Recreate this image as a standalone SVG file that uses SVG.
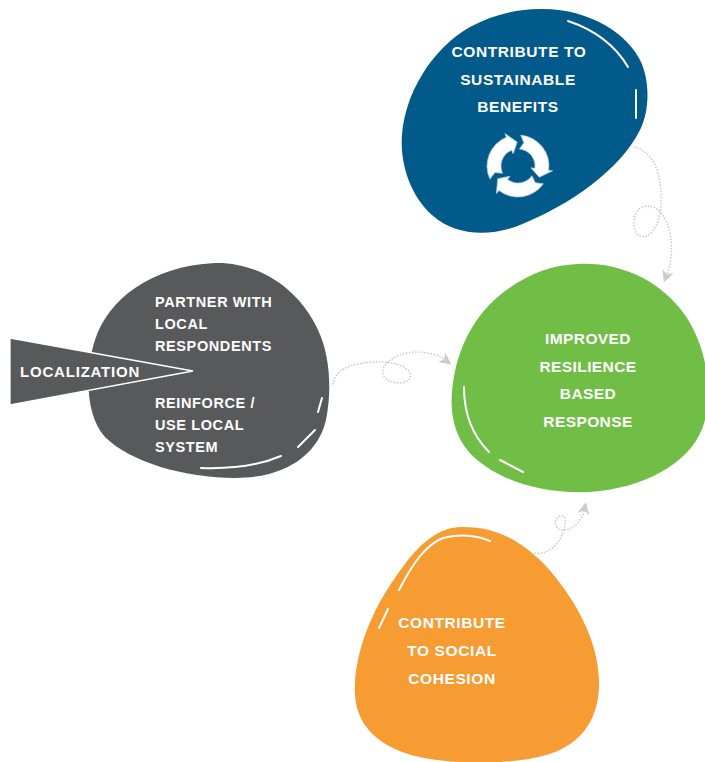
<svg xmlns="http://www.w3.org/2000/svg" width="705" height="762" viewBox="0 0 705 762">
<defs>
<style>
.lbl{font-family:"Liberation Sans",Arial,sans-serif;font-weight:700;fill:#ffffff;letter-spacing:0.6px;}
.c{text-anchor:middle;}
.hl{fill:none;stroke:#ffffff;stroke-width:2;stroke-linecap:round;}
.dot{fill:none;stroke:#c6c6c6;stroke-width:1.6;stroke-linecap:round;stroke-dasharray:0.1 3;}
</style>
<marker id="ah" viewBox="0 0 12 12" refX="3" refY="6" markerWidth="12" markerHeight="12" markerUnits="userSpaceOnUse" orient="auto">
<path d="M0,0 L12,6 L0,12 L3.5,6 Z" fill="#cbcbcb"/>
</marker>
<path id="seg" d="M2.70,-30.88 A31,31 0 0 1 30.70,4.31 L34.66,4.87 L21.19,11.27 L12.87,1.81 L16.83,2.37 A17,17 0 0 0 1.48,-16.94 L5.81,-23.29 Z" fill="#ffffff" stroke="#a9c6dc" stroke-width="0.7"/>
</defs>
<rect width="705" height="762" fill="#ffffff"/>

<g id="connectors">
<path class="dot" d="M634,147 C655,152 662,175 661,205 C660,225 650,240 640,236 C630,232 632,205 648,206 C668,207 678,245 667,274" marker-end="url(#ah)"/>
<path class="dot" d="M333,384 C335,370 350,363 375,362 C400,361 413,370 410,378 C407,386 385,384 383,374 C381,362 400,351 420,352 C432,353 440,356 444,359" marker-end="url(#ah)"/>
<path class="dot" d="M535,553 C548,555 558,545 563,533 C567,522 566,514 560,516 C552,519 555,532 565,530 C575,528 582,520 584,511" marker-end="url(#ah)"/>
</g>

<g id="node-sustainable">
<path d="M540,9 C590,8 628,35 640,60 C650,80 650,110 640,130 C620,170 570,205 520,225 C490,237 455,236 432,215 C408,193 400,160 402,135 C405,95 430,50 470,27 C490,16 515,9 540,9 Z" fill="#025a8a"/>
<path class="hl" d="M568,21 C595,30 615,45 628,67"/>
<path class="hl" d="M636,90 L636,118"/>
<text class="lbl c" font-size="15.5" x="519" y="57">CONTRIBUTE TO</text>
<text class="lbl c" font-size="15.5" x="518" y="85">SUSTAINABLE</text>
<text class="lbl c" font-size="15.5" x="518" y="112">BENEFITS</text>
<g id="cycle-icon" transform="translate(518,166)">
<use href="#seg"/>
<use href="#seg" transform="rotate(120)"/>
<use href="#seg" transform="rotate(240)"/>
</g>
</g>

<g id="node-localization">
<path d="M215,263 C260,262 300,290 318,330 C330,355 332,390 326,420 C318,455 285,478 235,478 C185,478 130,462 105,437 C85,415 85,370 95,340 C108,300 150,266 215,263 Z" fill="#58595b"/>
<polygon points="10,338 193,371 10,405" fill="#58595b" stroke="#ffffff" stroke-width="1.3"/>
<path class="hl" d="M322,398 L318,412"/>
<path class="hl" d="M315,430 L298,447"/>
<path class="hl" d="M281,456 C260,465 230,469 201,468"/>
<text class="lbl" font-size="15" x="20" y="377" style="letter-spacing:0.8px">LOCALIZATION</text>
<text class="lbl" font-size="14.5" x="155" y="307">PARTNER WITH</text>
<text class="lbl" font-size="14.5" x="155" y="329">LOCAL</text>
<text class="lbl" font-size="14.5" x="155" y="351">RESPONDENTS</text>
<text class="lbl" font-size="14.5" x="155" y="408">REINFORCE /</text>
<text class="lbl" font-size="14.5" x="155" y="430">USE LOCAL</text>
<text class="lbl" font-size="14.5" x="155" y="452">SYSTEM</text>
</g>

<g id="node-resilience">
<path d="M578,264 C620,262 660,280 685,315 C705,345 712,380 705,420 C695,460 650,485 600,491 C555,496 505,485 475,458 C455,440 450,415 452,392 C455,355 470,320 500,295 C525,275 550,265 578,264 Z" fill="#70be45"/>
<path class="hl" d="M464,387 C464,412 472,435 489,452"/>
<path class="hl" d="M500,460 L523,472"/>
<text class="lbl c" font-size="15.5" x="588" y="344" style="letter-spacing:0.4px">IMPROVED</text>
<text class="lbl c" font-size="15.5" x="588" y="372" style="letter-spacing:0.4px">RESILIENCE</text>
<text class="lbl c" font-size="15.5" x="588" y="399" style="letter-spacing:0.4px">BASED</text>
<text class="lbl c" font-size="15.5" x="588" y="427" style="letter-spacing:0.4px">RESPONSE</text>
</g>

<g id="node-cohesion">
<path d="M460,527 C495,526 520,540 545,565 C575,598 598,640 599,680 C600,715 585,740 555,752 C525,764 470,765 430,759 C385,752 357,730 355,695 C353,655 372,610 395,578 C415,548 435,528 460,527 Z" fill="#f69c33"/>
<path class="hl" d="M399,590 C412,565 425,545 443,538 C460,533 478,536 490,541"/>
<path class="hl" d="M379,628 L388,609"/>
<text class="lbl c" font-size="15.5" x="452" y="628">CONTRIBUTE</text>
<text class="lbl c" font-size="15.5" x="452" y="656">TO SOCIAL</text>
<text class="lbl c" font-size="15.5" x="452" y="684">COHESION</text>
</g>
</svg>
